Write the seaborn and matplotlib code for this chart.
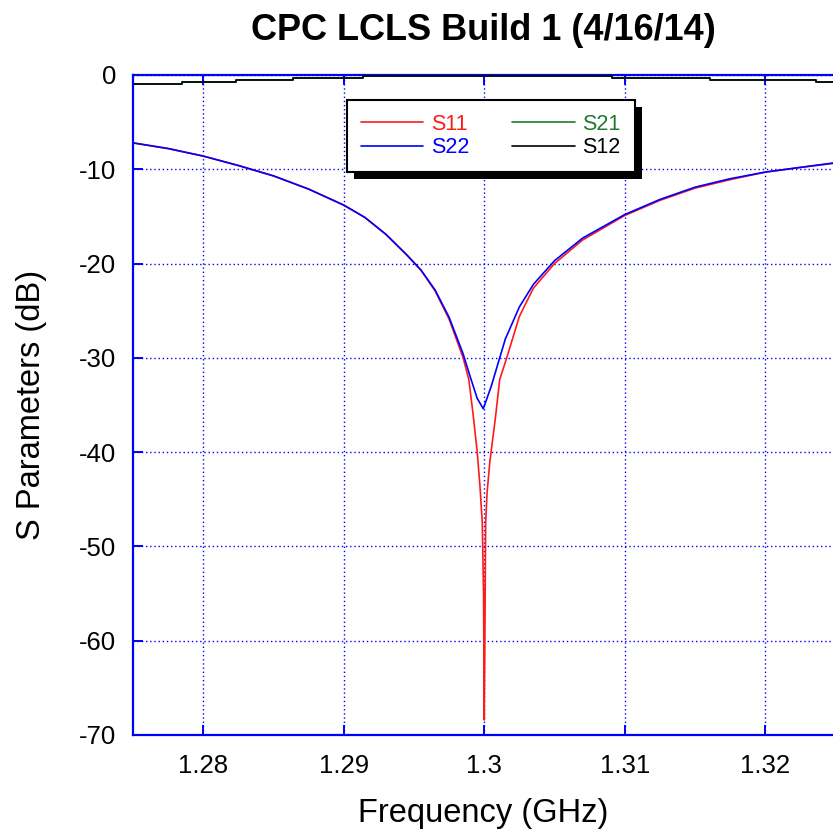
import matplotlib
matplotlib.use("Agg")
import matplotlib.pyplot as plt
import matplotlib.patheffects as pe
import seaborn as sns
import pandas as pd
import numpy as np

# ---- data ----
freq_s22 = [1.2750, 1.2775, 1.2800, 1.2825, 1.2850, 1.2875, 1.2900, 1.2915, 1.2930,
            1.2945, 1.2955, 1.2965, 1.2975, 1.2985, 1.2990, 1.2995, 1.29993, 1.3005,
            1.3010, 1.3015, 1.3025, 1.3035, 1.3050, 1.3070, 1.3100, 1.3125, 1.3150,
            1.3175, 1.3200, 1.3225, 1.3250]
s22 = [-7.2, -7.8, -8.6, -9.6, -10.7, -12.1, -13.8, -15.1, -16.9,
       -19.1, -20.7, -22.8, -25.7, -29.6, -32.0, -34.3, -35.4, -33.0,
       -30.5, -28.0, -24.6, -22.2, -19.7, -17.3, -14.8, -13.2, -11.9,
       -11.0, -10.3, -9.8, -9.3]

freq_s11 = [1.2750, 1.2775, 1.2800, 1.2825, 1.2850, 1.2875, 1.2900, 1.2915, 1.2930,
            1.2945, 1.2955, 1.2965, 1.2975, 1.2985, 1.2989, 1.2992, 1.2995, 1.2997,
            1.29986, 1.29995, 1.3000, 1.30005, 1.3001, 1.3002, 1.3004, 1.3008,
            1.3011, 1.3016, 1.3025, 1.3035, 1.3050, 1.3070, 1.3100, 1.3125, 1.3150,
            1.3175, 1.3200, 1.3225, 1.3250]
s11 = [-7.2, -7.8, -8.6, -9.6, -10.7, -12.1, -13.8, -15.1, -16.9,
       -19.1, -20.7, -22.9, -25.9, -30.0, -32.3, -35.9, -40.0, -43.7,
       -47.5, -55.0, -68.4, -58.5, -47.5, -44.3, -41.0, -36.3,
       -32.3, -30.0, -25.6, -22.6, -20.0, -17.5, -14.9, -13.3, -12.0,
       -11.1, -10.3, -9.8, -9.35]

freq_thru = [1.2750, 1.2785, 1.2823, 1.2864, 1.2914, 1.3091, 1.3161, 1.3236, 1.3250]
s21 = [-0.92, -0.74, -0.56, -0.35, -0.14, -0.32, -0.53, -0.74, -0.74]
s12 = [-0.92, -0.74, -0.56, -0.35, -0.14, -0.32, -0.53, -0.74, -0.74]

x_ticks = [1.28, 1.29, 1.30, 1.31, 1.32]
x_tick_labels = ["1.28", "1.29", "1.3", "1.31", "1.32"]
y_ticks = [0, -10, -20, -30, -40, -50, -60, -70]

title = "CPC LCLS Build 1 (4/16/14)"
x_label = "Frequency (GHz)"
y_label = "S Parameters (dB)"

# ---- style ----
sns.set_style("white")
plt.rcParams["font.family"] = ["Liberation Sans", "DejaVu Sans"]
plt.rcParams["axes.unicode_minus"] = False
plt.rcParams["text.color"] = "black"
plt.rcParams["axes.labelcolor"] = "black"

BLUE = "#0000ff"
RED = "#ff1a1a"
GREEN = "#1f7a2e"

fig = plt.figure(figsize=(8.33, 8.35), dpi=100)
ax = fig.add_axes([133 / 833, 100 / 835, 702.5 / 833, 660 / 835])

df11 = pd.DataFrame({"f": freq_s11, "v": s11})
df22 = pd.DataFrame({"f": freq_s22, "v": s22})
dft = pd.DataFrame({"f": freq_thru, "s21": s21, "s12": s12})

lw = 1.2
sns.lineplot(data=dft, x="f", y="s21", ax=ax, color=GREEN, lw=lw, label="S21",
             drawstyle="steps-post", zorder=3)
sns.lineplot(data=dft, x="f", y="s12", ax=ax, color="black", lw=lw, label="S12",
             drawstyle="steps-post", zorder=4)
sns.lineplot(data=df11, x="f", y="v", ax=ax, color=RED, lw=lw, label="S11", zorder=5)
sns.lineplot(data=df22, x="f", y="v", ax=ax, color=BLUE, lw=lw, label="S22", zorder=6)

ax.set_xlim(1.275, 1.325)
ax.set_ylim(-70, 0)
ax.set_xticks(x_ticks)
ax.set_xticklabels(x_tick_labels)
ax.set_yticks(y_ticks)

ax.grid(True, color=BLUE, linestyle=(0, (1, 2)), linewidth=1.0)
for s in ax.spines.values():
    s.set_color(BLUE)
    s.set_linewidth(1.6)
ax.tick_params(axis="both", direction="in", colors=BLUE, length=7, width=1.4,
               labelcolor="black", labelsize=18.5, top=True, bottom=True, left=True)
ax.tick_params(axis="x", pad=14)
ax.tick_params(axis="y", pad=12)

ax.set_xlabel(x_label, fontsize=23.5, color="black")
ax.set_ylabel(y_label, fontsize=23.5, color="black")
ax.xaxis.set_label_coords((483 - 133) / 702.5, -(798 - 735) / 660)
ax.yaxis.set_label_coords(-(133 - 47) / 702.5, (735 - 405) / 660)
fig.text(483 / 833, 1 - 31 / 835, title, fontsize=26, fontweight="bold",
         ha="center", va="center", color="black")

handles, labels = ax.get_legend_handles_labels()
order = ["S11", "S22", "S21", "S12"]
hmap = dict(zip(labels, handles))
leg = ax.legend([hmap[k] for k in order], order, ncol=2, loc="upper left",
                bbox_to_anchor=((347 - 133) / 702.5, (735 - 100) / 660),
                fontsize=15.5, frameon=True, fancybox=False, handlelength=2.9,
                handletextpad=0.35, columnspacing=2.0, labelspacing=0.1,
                borderpad=0.65, borderaxespad=0)
frame = leg.get_frame()
frame.set_edgecolor("black")
frame.set_linewidth(1.5)
frame.set_facecolor("white")
frame.set_alpha(1)
frame.set_path_effects([pe.SimplePatchShadow(offset=(5, -5), shadow_rgbFace="black", alpha=1),
                        pe.Normal()])
colors = {"S11": RED, "S22": BLUE, "S21": GREEN, "S12": "black"}
for t in leg.get_texts():
    t.set_color(colors[t.get_text()])
leg.set_zorder(10)

fig.savefig("out.png", dpi=100)
